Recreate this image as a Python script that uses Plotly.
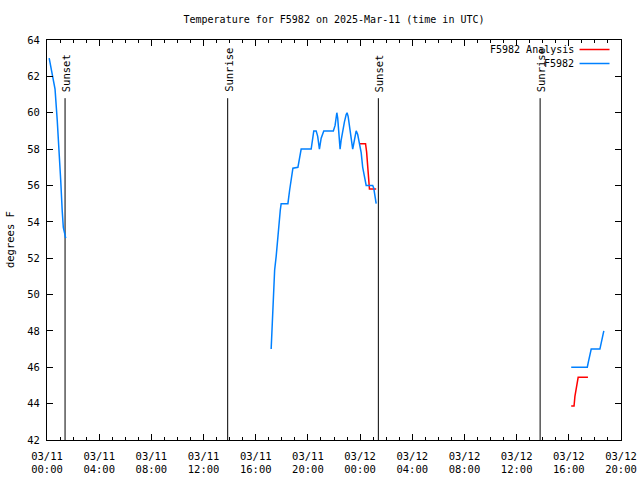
import plotly.graph_objects as go

# ---------------- data ----------------
obs_times = [
    "2025-03-11 00:10", "2025-03-11 00:22", "2025-03-11 00:37", "2025-03-11 00:47",
    "2025-03-11 00:55", "2025-03-11 01:03", "2025-03-11 01:10", "2025-03-11 01:15",
    "2025-03-11 01:26", None,
    "2025-03-11 17:11", "2025-03-11 17:19", "2025-03-11 17:27", "2025-03-11 17:34",
    "2025-03-11 17:42", "2025-03-11 17:53", "2025-03-11 17:57", "2025-03-11 18:28",
    "2025-03-11 18:36", "2025-03-11 18:43", "2025-03-11 18:51", "2025-03-11 19:14",
    "2025-03-11 19:21", "2025-03-11 19:29", "2025-03-11 20:15", "2025-03-11 20:22",
    "2025-03-11 20:27", "2025-03-11 20:38", "2025-03-11 20:45", "2025-03-11 20:53",
    "2025-03-11 21:01", "2025-03-11 21:13", "2025-03-11 21:57", "2025-03-11 22:05",
    "2025-03-11 22:10", "2025-03-11 22:13", "2025-03-11 22:17", "2025-03-11 22:20",
    "2025-03-11 22:25", "2025-03-11 22:28", "2025-03-11 22:33", "2025-03-11 22:40",
    "2025-03-11 22:48", "2025-03-11 22:56", "2025-03-11 23:00", "2025-03-11 23:05",
    "2025-03-11 23:11", "2025-03-11 23:19", "2025-03-11 23:26", "2025-03-11 23:34",
    "2025-03-11 23:42", "2025-03-11 23:49", "2025-03-11 23:57", "2025-03-12 00:05",
    "2025-03-12 00:12", "2025-03-12 00:20", "2025-03-12 00:28", "2025-03-12 00:58",
    "2025-03-12 01:03", "2025-03-12 01:06", "2025-03-12 01:14", None,
    "2025-03-12 16:11", "2025-03-12 17:25", "2025-03-12 17:30", "2025-03-12 17:36",
    "2025-03-12 17:43", "2025-03-12 18:23", "2025-03-12 18:29", "2025-03-12 18:34",
    "2025-03-12 18:41",
]
obs_temps = [
    63.0, 62.3, 61.3, 59.6, 58.1, 56.3, 54.6, 53.7, 53.1, None,
    47.0, 49.5, 51.35, 52.1, 53.4, 54.65, 55.0, 55.0,
    55.75, 56.3, 56.95, 57.0, 57.5, 58.0, 58.0, 58.8,
    59.0, 59.0, 58.7, 58.0, 58.6, 59.0, 59.0, 59.3,
    59.8, 60.0, 59.7, 59.05, 58.4, 58.0, 58.5, 59.05,
    59.5, 59.9, 60.0, 59.8, 59.2, 58.7, 58.0, 58.5,
    59.0, 58.8, 58.3, 57.8, 57.0, 56.5, 56.0, 56.0,
    55.85, 55.6, 55.0, None,
    46.0, 46.0, 46.3, 46.7, 47.0, 47.0, 47.3, 47.6, 48.0,
]

ana_times = [
    "2025-03-11 23:57", "2025-03-12 00:25", "2025-03-12 00:30", "2025-03-12 00:35",
    "2025-03-12 00:38", "2025-03-12 00:43", "2025-03-12 01:14", None,
    "2025-03-12 16:11", "2025-03-12 16:24", "2025-03-12 16:28", "2025-03-12 16:34",
    "2025-03-12 16:39", "2025-03-12 16:43", "2025-03-12 17:28",
]
ana_temps = [
    58.3, 58.3, 57.85, 57.0, 56.2, 55.8, 55.8, None,
    43.87, 43.87, 44.4, 44.8, 45.2, 45.45, 45.45,
]

sun_events = ["Sunset", "Sunrise", "Sunset", "Sunrise"]
sun_times = ["2025-03-11 01:23", "2025-03-11 13:51", "2025-03-12 01:24", "2025-03-12 13:48"]
sun_line_top = 60.8

x_tickvals = ["2025-03-11 00:00", "2025-03-11 04:00", "2025-03-11 08:00", "2025-03-11 12:00",
              "2025-03-11 16:00", "2025-03-11 20:00", "2025-03-12 00:00", "2025-03-12 04:00",
              "2025-03-12 08:00", "2025-03-12 12:00", "2025-03-12 16:00", "2025-03-12 20:00"]
x_ticktext = ["03/11<br>00:00", "03/11<br>04:00", "03/11<br>08:00", "03/11<br>12:00",
              "03/11<br>16:00", "03/11<br>20:00", "03/12<br>00:00", "03/12<br>04:00",
              "03/12<br>08:00", "03/12<br>12:00", "03/12<br>16:00", "03/12<br>20:00"]
y_tickvals = [42, 44, 46, 48, 50, 52, 54, 56, 58, 60, 62, 64]

title_text = "Temperature for F5982 on 2025-Mar-11 (time in UTC)"
series_names = ["F5982 Analysis", "F5982"]
series_colors = ["#ff0000", "#0080ff"]

# ---------------- figure ----------------
FONT = "DejaVu Sans Mono"
fig = go.Figure()

for t, ev in zip(sun_times, sun_events):
    fig.add_trace(go.Scatter(x=[t, t], y=[42, sun_line_top], mode="lines",
                             line=dict(color="black", width=1), showlegend=False,
                             hoverinfo="skip"))
    fig.add_annotation(x=t, y=sun_line_top + 0.22, text=ev, showarrow=False,
                       textangle=-90, xanchor="center", yanchor="bottom", xshift=1,
                       font=dict(family=FONT, size=10.5, color="black"))

fig.add_trace(go.Scatter(x=ana_times, y=ana_temps, mode="lines", name=series_names[0],
                         line=dict(color=series_colors[0], width=1.5), connectgaps=False,
                         showlegend=False))
fig.add_trace(go.Scatter(x=obs_times, y=obs_temps, mode="lines", name=series_names[1],
                         line=dict(color=series_colors[1], width=1.5), connectgaps=False,
                         showlegend=False))

# manual gnuplot-style legend (text then sample line)
for i, (nm, col) in enumerate(zip(series_names, series_colors)):
    ypos = 1 - (9.5 + 14 * i) / 400
    fig.add_annotation(xref="paper", yref="paper", x=(576 - 47) / 574.5, y=ypos,
                       text=nm, showarrow=False, xanchor="right", yanchor="middle",
                       font=dict(family=FONT, size=10, color="black"))
    fig.add_shape(type="line", xref="paper", yref="paper",
                  x0=(580 - 47) / 574.5, x1=(610 - 47) / 574.5, y0=ypos, y1=ypos,
                  line=dict(color=col, width=1.5))

fig.add_annotation(xref="paper", yref="paper", x=(10 - 47) / 574.5, y=0.5,
                   text="degrees F", textangle=-90, showarrow=False,
                   xanchor="center", yanchor="middle",
                   font=dict(family=FONT, size=10.5, color="black"))

fig.update_layout(
    width=640, height=480,
    margin=dict(l=47, r=18.5, t=40, b=40, autoexpand=False),
    paper_bgcolor="white", plot_bgcolor="white",
    font=dict(family=FONT, size=10.5, color="black"),
    title=dict(text=title_text, x=334 / 640, xanchor="center",
               y=1 - 19 / 480, yanchor="middle", yref="container",
               font=dict(family=FONT, size=10, color="black")),
    showlegend=False,
)
fig.update_xaxes(
    range=["2025-03-11 00:00", "2025-03-12 20:00"],
    tickmode="array", tickvals=x_tickvals, ticktext=x_ticktext,
    ticks="inside", ticklen=6, tickcolor="black", tickwidth=1,
    minor=dict(dtick=3600000, tick0="2025-03-11 00:00", ticks="inside", ticklen=3,
               tickcolor="black", tickwidth=1, showgrid=False),
    showline=True, linecolor="black", linewidth=1, mirror="allticks",
    showgrid=False, zeroline=False, ticklabelstandoff=6,
    tickfont=dict(family=FONT, size=10.5),
)
fig.update_yaxes(
    range=[42, 64], tickmode="array", tickvals=y_tickvals,
    ticks="inside", ticklen=6, tickcolor="black", tickwidth=1,
    showline=True, linecolor="black", linewidth=1, mirror="allticks",
    showgrid=False, zeroline=False, ticklabelstandoff=4,
    tickfont=dict(family=FONT, size=10.5),
)

fig.write_html("out.html", config={"displayModeBar": False},
               post_script="document.body.style.margin='0';document.body.style.padding='0';")
